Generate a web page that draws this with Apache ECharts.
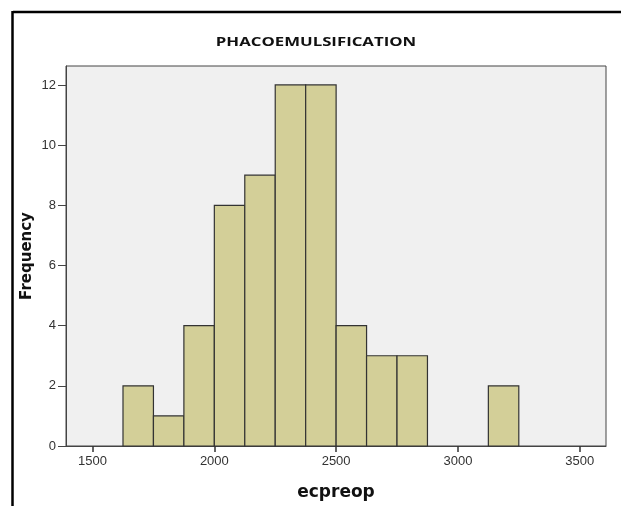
<!DOCTYPE html>
<html><head><meta charset="utf-8">
<script src="https://cdn.jsdelivr.net/npm/echarts@6/dist/echarts.min.js"></script>
<style>html,body{margin:0;padding:0;background:#fff;}#c{width:621px;height:506px;}</style>
</head><body><div id="c"></div>
<script>
const binStarts = [1625,1750,1875,2000,2125,2250,2375,2500,2625,2750,3125];
const binWidth = 125;
const counts = [2,1,4,8,9,12,12,4,3,3,2];
const xTicks = [1500,2000,2500,3000,3500];
const yTicks = [0,2,4,6,8,10,12];
const title = 'PHACOEMULSIFICATION';
const xName = 'ecpreop';
const yName = 'Frequency';

const data = binStarts.map((s,i)=>[s, s+binWidth, counts[i]]);
const chart = echarts.init(document.getElementById('c'), null, {renderer:'canvas'});
const lab = {color:'#333', fontFamily:'Liberation Sans, Arial', fontSize:13, formatter:v=>String(v)};
chart.setOption({
  animation:false,
  backgroundColor:'#fff',
  grid:{left:66, right:15, top:66, bottom:60, outerBoundsMode:'none', containLabel:false, show:true, backgroundColor:'#f0f0f0', borderColor:'#444', borderWidth:1},
  xAxis:{type:'value', min:1391, max:3608,
    name:xName, nameLocation:'middle', nameGap:38,
    nameTextStyle:{fontFamily:'DejaVu Sans', fontWeight:'bold', fontSize:17, color:'#111'},
    axisLine:{show:true, lineStyle:{color:'#444'}},
    axisTick:{show:true, length:6, customValues:xTicks, lineStyle:{color:'#333', width:1.5}},
    axisLabel:{customValues:xTicks, margin:9, ...lab},
    splitLine:{show:false}},
  yAxis:{type:'value', min:0, max:12.63,
    name:yName, nameLocation:'middle', nameGap:31, nameMoveOverlap:false,
    nameTextStyle:{fontFamily:'DejaVu Sans', fontWeight:'bold', fontSize:15, color:'#111'},
    axisLine:{show:true, lineStyle:{color:'#444'}},
    axisTick:{show:true, length:8, customValues:yTicks, lineStyle:{color:'#444'}},
    axisLabel:{customValues:yTicks, margin:10, ...lab},
    splitLine:{show:false}},
  series:[{type:'custom', data:data,
    encode:{x:[0,1], y:2},
    renderItem:function(params, api){
      const p0 = api.coord([api.value(0), 0]);
      const p1 = api.coord([api.value(1), api.value(2)]);
      return {type:'rect', shape:{x:p0[0], y:p1[1], width:p1[0]-p0[0], height:p0[1]-p1[1]},
        style:{fill:'#d3cf98', stroke:'#333', lineWidth:1.2}};
    }}],
  graphic:[
    {type:'line', shape:{x1:13, y1:12, x2:621, y2:12}, style:{stroke:'#000', lineWidth:2.5}},
    {type:'line', shape:{x1:12.5, y1:11, x2:12.5, y2:506}, style:{stroke:'#000', lineWidth:2.5}},
    {type:'text', x:316, y:42, scaleX:1.29,
      style:{text:title, font:'bold 13px "Open Sans"', fill:'#111', align:'center', verticalAlign:'middle'}}
  ]
});
</script></body></html>
